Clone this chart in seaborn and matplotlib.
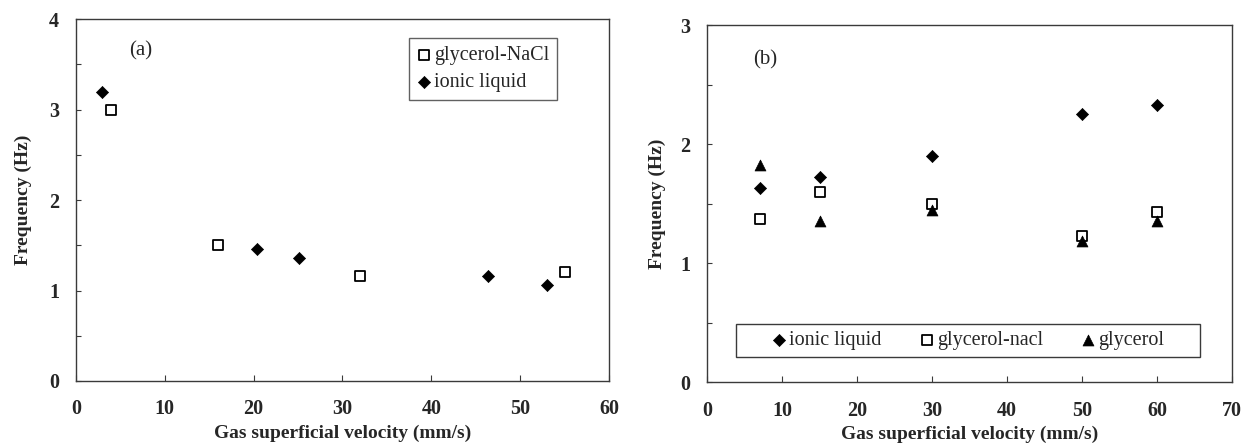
import matplotlib
matplotlib.use("Agg")
import matplotlib.pyplot as plt
from matplotlib.patches import Rectangle
import seaborn as sns
import numpy as np

# Panel (a): bubbling frequency vs gas superficial velocity
a_nacl_x = [4.0, 16.0, 32.0, 55.0]
a_nacl_y = [3.00, 1.50, 1.16, 1.20]
a_ionic_x = [2.9, 20.4, 25.1, 46.4, 53.0]
a_ionic_y = [3.20, 1.46, 1.36, 1.16, 1.06]

# Panel (b)
b_x = [7, 15, 30, 50, 60]
b_ionic_y = [1.63, 1.73, 1.90, 2.26, 2.33]
b_nacl_y = [1.37, 1.60, 1.50, 1.23, 1.43]
b_glyc_y = [1.83, 1.36, 1.45, 1.19, 1.36]

x_ticks_a = [0, 10, 20, 30, 40, 50, 60]
y_ticks_a = [0, 1, 2, 3, 4]
x_ticks_b = [0, 10, 20, 30, 40, 50, 60, 70]
y_ticks_b = [0, 1, 2, 3]

sns.set_style("ticks")
plt.rcParams["font.family"] = ["Liberation Serif", "DejaVu Serif"]

fig = plt.figure(figsize=(12.48, 4.43), dpi=100)
ax_a = fig.add_axes([0.0607, 0.140, 0.4273, 0.8165])
ax_b = fig.add_axes([0.5666, 0.1366, 0.4207, 0.8060])

spine_col = "#3a3a3a"
sq_kw = dict(marker="s", s=52, color="white", edgecolor="black", linewidth=1.3, zorder=3)
dm_kw = dict(marker="D", s=38, color="black", edgecolor="black", linewidth=0.5, zorder=4)
tr_kw = dict(marker="^", s=62, color="black", edgecolor="black", linewidth=0.5, zorder=3)

# ---- panel (a)
sns.scatterplot(x=a_nacl_x, y=a_nacl_y, ax=ax_a, label="glycerol-NaCl", **sq_kw)
sns.scatterplot(x=a_ionic_x, y=a_ionic_y, ax=ax_a, label="ionic liquid", **dm_kw)

# ---- panel (b)
sns.scatterplot(x=b_x, y=b_ionic_y, ax=ax_b, label="ionic liquid", **dm_kw)
sns.scatterplot(x=b_x, y=b_nacl_y, ax=ax_b, label="glycerol-nacl", **sq_kw)
sns.scatterplot(x=b_x, y=b_glyc_y, ax=ax_b, label="glycerol", **tr_kw)


def style_axes(ax, xt, yt):
    ax.set_xlim(xt[0], xt[-1])
    ax.set_ylim(yt[0], yt[-1])
    ax.set_xticks(xt)
    ax.set_yticks(yt)
    ax.set_yticks(np.arange(yt[0] + 0.5, yt[-1], 1.0), minor=True)
    ax.set_xticklabels([str(v) for v in xt], fontweight="bold", fontsize=14.5)
    ax.set_yticklabels([str(v) for v in yt], fontweight="bold", fontsize=14.5)
    ax.tick_params(axis="x", which="major", direction="in", length=4.5, width=0.8,
                   color=spine_col, pad=13, top=False)
    ax.tick_params(axis="y", which="both", direction="in", length=3.5, width=0.8,
                   color=spine_col, pad=12, right=False)
    for sp in ax.spines.values():
        sp.set_visible(True)
        sp.set_color(spine_col)
        sp.set_linewidth(1.0)
    ax.set_xlabel("Gas superficial velocity (mm/s)", fontsize=14, fontweight="bold")
    ax.set_ylabel("Frequency (Hz)", fontsize=14, fontweight="bold")
    ax.set_facecolor("white")


style_axes(ax_a, x_ticks_a, y_ticks_a)
style_axes(ax_b, x_ticks_b, y_ticks_b)

ax_a.xaxis.set_label_coords(0.5, -0.122)
ax_a.yaxis.set_label_coords(-0.082, 0.5)
ax_b.xaxis.set_label_coords(0.5, -0.120)
ax_b.yaxis.set_label_coords(-0.079, 0.5)

ax_a.text(0.122, 0.913, "(a)", transform=ax_a.transAxes, fontsize=15,
          ha="center", va="center")
ax_b.text(0.110, 0.904, "(b)", transform=ax_b.transAxes, fontsize=15,
          ha="center", va="center")

leg_a = ax_a.legend(loc="upper right", bbox_to_anchor=(0.9025, 0.948),
                    fontsize=14.5, frameon=True, fancybox=False, borderpad=0.4,
                    handlelength=0.7, handletextpad=0.15, labelspacing=0.4,
                    borderaxespad=0.0)
leg_a.get_frame().set_edgecolor(spine_col)
leg_a.get_frame().set_linewidth(1.0)

# frame of the (b) legend spans wider than its entries
ax_b.add_patch(Rectangle((0.0552, 0.0714), 0.884, 0.093, transform=ax_b.transAxes,
                         facecolor="white", edgecolor=spine_col, linewidth=1.0, zorder=5))
leg_b = ax_b.legend(loc="center", bbox_to_anchor=(0.497, 0.118), ncol=3,
                    fontsize=14.5, frameon=False, handlelength=0.7,
                    handletextpad=0.15, columnspacing=1.9, borderaxespad=0.0)
leg_b.set_zorder(6)

fig.savefig("out.png", dpi=100, facecolor="white")
